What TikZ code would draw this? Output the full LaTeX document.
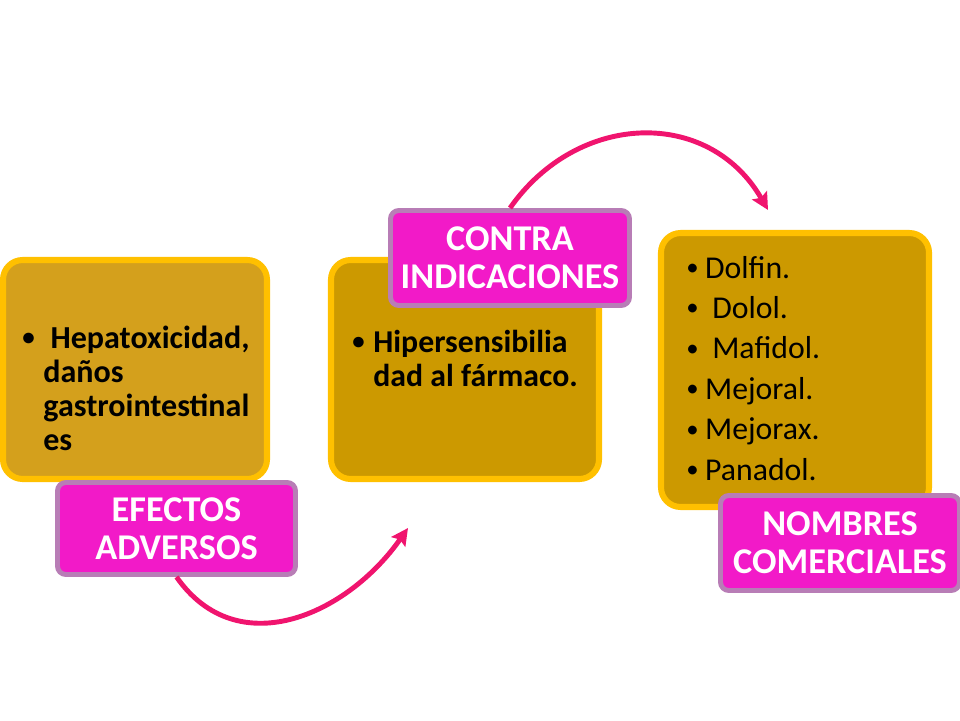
\documentclass[tikz,border=0pt]{standalone}
\usepackage{fontspec}
\usepackage{graphicx}
\setmainfont{Carlito}
\usetikzlibrary{arrows.meta}
\definecolor{goldA}{RGB}{212,160,28}
\definecolor{goldB}{RGB}{204,153,0}
\definecolor{goldline}{RGB}{255,192,0}
\definecolor{lblfill}{RGB}{242,26,200}
\definecolor{lblline}{RGB}{184,125,182}
\definecolor{arrowpink}{RGB}{240,20,110}
\newcommand{\blt}[1]{\makebox[#1][l]{\raisebox{0.08em}{\scalebox{0.78}{\textbullet}}}}

\begin{document}
\begin{tikzpicture}
      \useasboundingbox (0,0) rectangle (24,18);
      \begin{scope}[every node/.style={draw=goldline,line width=4.3pt,rounded corners=14pt,inner sep=0pt}]
        \node[fill=goldA,minimum width=6.6cm,minimum height=5.475cm] (b1) at (3.375,8.7625) {};
        \node[fill=goldB,minimum width=6.7cm,minimum height=5.475cm] (b2) at (11.625,8.7625) {};
        \node[fill=goldB,minimum width=6.7cm,minimum height=6.85cm] (b3) at (19.875,8.75) {};
      \end{scope}
      \begin{scope}[every node/.style={inner sep=0pt,anchor=base west}]
        \node[font=\bfseries\fontsize{22.8}{24.4}\selectfont] (t1) at (0.55,9.3)
          {\begin{tabular}[t]{@{}l@{}l@{}}\blt{15pt} & \ Hepatoxicidad,\\ & daños\\ & gastrointestinal\\ & es\end{tabular}};
        \node[font=\bfseries\fontsize{22.6}{24.2}\selectfont] (t2) at (8.8,9.2)
          {\begin{tabular}[t]{@{}l@{}l@{}}\blt{15pt} & Hipersensibilia\\ & dad al fármaco.\end{tabular}};
        \node[font=\fontsize{22.6}{28.8}\selectfont] (t3) at (17.15,11.05)
          {\begin{tabular}[t]{@{}l@{}l@{}}\blt{13.4pt} & Dolfin.\\ \blt{13.4pt} & \ Dolol.\\ \blt{13.4pt} & \ Mafidol.\\
           \blt{13.4pt} & Mejoral.\\ \blt{13.4pt} & Mejorax.\\ \blt{13.4pt} & Panadol.\end{tabular}};
      \end{scope}
      \begin{scope}[every node/.style={draw=lblline,fill=lblfill,line width=3.5pt,rounded corners=6pt,
          text=white,align=center,inner sep=0pt,minimum width=5.975cm,minimum height=2.375cm,
          font=\bfseries\fontsize{25.8}{26.8}\selectfont}]
        \node[minimum width=5.95cm,minimum height=2.3cm] (ef) at (4.4125,4.7875) {EFECTOS\\ADVERSOS};
        \node (ci) at (12.75,11.55) {CONTRA\\INDICACIONES};
        \node (nc) at (21,4.425) {NOMBRES\\COMERCIALES};
      \end{scope}
      \coordinate (a1) at (10.2,4.8);
      \coordinate (a2) at (19.2,12.75);
      \begin{scope}[>={Stealth[length=12pt,width=12pt,inset=2pt]},every edge/.style={draw=arrowpink,line width=3.5pt}]
        \path[->] (ef.south) edge[out=-55,in=235,looseness=1.15] (a1);
        \path[->] (ci.north) edge[out=55,in=120,looseness=1.17] (a2);
      \end{scope}
    \end{tikzpicture}
\end{document}
